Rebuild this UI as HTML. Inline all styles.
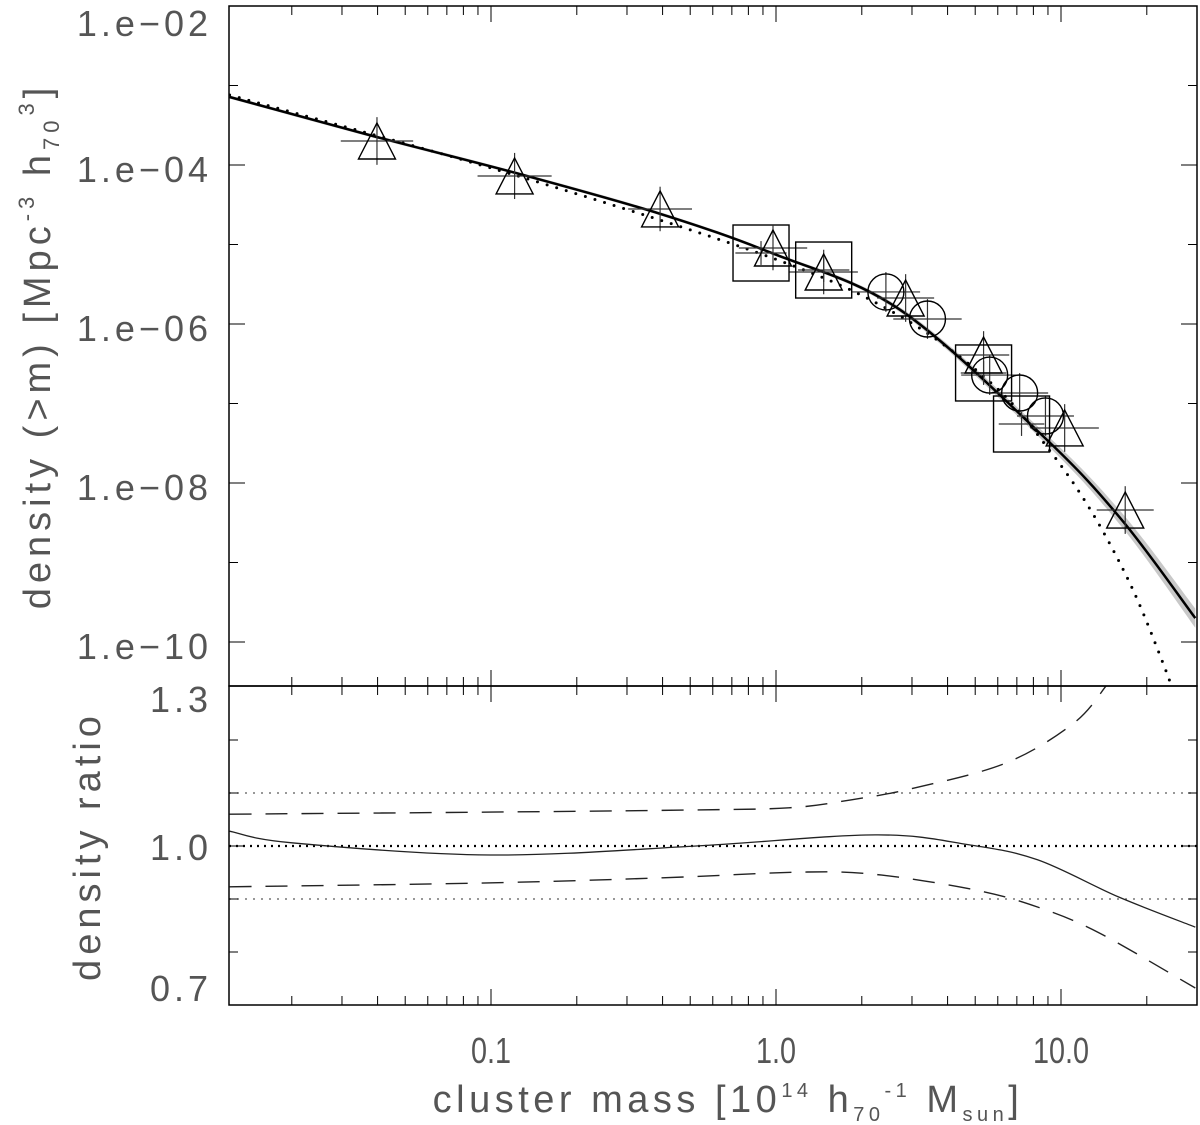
<!DOCTYPE html>
<html><head><meta charset="utf-8"><style>
html,body{margin:0;padding:0;background:#fff;}
svg{display:block;}
text{font-family:"Liberation Sans",sans-serif;fill:#555;}
</style></head><body>
<svg id="chart" width="1200" height="1125" viewBox="0 0 1200 1125" xmlns="http://www.w3.org/2000/svg">
<g id="top-panel"></g>
<g id="bot-panel"></g>
<g id="labels">
<text x="0" y="0" transform="translate(50,346) rotate(-90)" text-anchor="middle" font-size="38" letter-spacing="5">density (&gt;m) [Mpc<tspan dy="-16" font-size="22">-3</tspan><tspan dy="16"> h</tspan><tspan dy="9" font-size="22">70</tspan><tspan dy="-25" font-size="22">3</tspan><tspan dy="16">]</tspan></text>
<text x="0" y="0" transform="translate(100,846) rotate(-90)" text-anchor="middle" font-size="38" letter-spacing="5">density ratio</text>
<text x="0" y="0" transform="translate(728,1112)" text-anchor="middle" font-size="38" letter-spacing="4.5">cluster mass  [10<tspan dy="-15" font-size="20">14</tspan><tspan dy="15"> h</tspan><tspan dy="9" font-size="20">70</tspan><tspan dy="-24" font-size="20">-1</tspan><tspan dy="15"> M</tspan><tspan dy="9" font-size="20">sun</tspan><tspan dy="-9">]</tspan></text>
</g>
</svg>
<script>
// ---- data ----
const triMass = [0.0398, 0.121, 0.392, 0.976, 1.47, 2.85, 5.35, 10.3, 16.8];
const triLogD = [-3.698, -4.138, -4.553, -5.044, -5.346, -5.673, -6.390, -7.308, -8.340];
const triXerr = [0.127, 0.13, 0.112, 0.12, 0.12, 0.1, 0.09, 0.12, 0.1];
const triYerr = [0.3, 0.29, 0.28, 0.28, 0.28, 0.3, 0.3, 0.3, 0.3];
const sqMass = [0.886, 1.47, 5.35, 7.27];
const sqLogD = [-5.107, -5.321, -6.616, -7.258];
const sqXerr = [0.09, 0.09, 0.08, 0.08];
const sqYerr = [0.15, 0.15, 0.15, 0.15];
const cirMass = [2.43, 3.40, 5.62, 7.16, 8.82];
const cirLogD = [-5.597, -5.937, -6.642, -6.868, -7.157];
const cirXerr = [0.12, 0.12, 0.1, 0.1, 0.1];
const cirYerr = [0.25, 0.25, 0.25, 0.25, 0.25];
const fitMass = [0.0121, 0.0385, 0.122, 0.393, 0.97, 2.72, 8.7, 16.4, 29.6];
const fitLogD = [-3.145, -3.635, -4.10, -4.615, -5.11, -5.82, -7.42, -8.47, -9.70];
const fitBand = [0.02, 0.02, 0.02, 0.02, 0.02, 0.03, 0.06, 0.09, 0.12];
const modMass = [0.0121, 0.122, 0.97, 2.72, 5.8, 9.1, 12.9, 17.7, 22.6, 25.5];
const modLogD = [-3.12, -4.13, -5.17, -5.90, -6.77, -7.585, -8.38, -9.31, -10.23, -10.75];
const ratioMass = [0.0121, 0.0200, 0.0995, 0.525, 2.24, 4.78, 8.27, 15.9, 29.6];
const ratioVal = [1.028, 1.006, 0.983, 1.0, 1.021, 1.002, 0.974, 0.904, 0.847];
const upMass = [0.0121, 0.1, 0.5, 1.11, 1.83, 3.04, 6.44, 11.1, 14.4];
const upVal = [1.060, 1.064, 1.068, 1.072, 1.087, 1.109, 1.157, 1.232, 1.302];
const loMass = [0.0121, 0.0904, 0.4, 1.29, 2.35, 5.01, 8.27, 13.6, 29.6];
const loVal = [0.923, 0.930, 0.940, 0.951, 0.945, 0.917, 0.885, 0.836, 0.732];
const refLines = [1.1, 1.0, 0.9];
const xTickVals = [0.1, 1, 10];
const xTickLabels = ['0.1', '1.0', '10.0'];
const yTickExp = [-2, -4, -6, -8, -10];
const yTickLabels = ['1.e\u221202', '1.e\u221204', '1.e\u221206', '1.e\u221208', '1.e\u221210'];
const rTickVals = [1.3, 1.0, 0.7];
const rTickLabels = ['1.3', '1.0', '0.7'];

// ---- axes ----
const L = 229, R = 1197, T = 6, M = 686, B = 1005;
const xS = m => 776 + 285 * Math.log10(m);
const yS = ld => T + (-2 - ld) * 79.5;
const rS = v => 846 - (v - 1) * 530;
const NS = 'http://www.w3.org/2000/svg';
function mk(tag, parent, attrs) {
  const e = document.createElementNS(NS, tag);
  for (const k in attrs) e.setAttribute(k, attrs[k]);
  parent.appendChild(e); return e;
}
function smooth(pts) {
  let d = 'M' + pts[0][0].toFixed(1) + ',' + pts[0][1].toFixed(1);
  for (let i = 0; i < pts.length - 1; i++) {
    const p0 = pts[Math.max(0, i - 1)], p1 = pts[i], p2 = pts[i + 1], p3 = pts[Math.min(pts.length - 1, i + 2)];
    const c1 = [p1[0] + (p2[0] - p0[0]) / 6, p1[1] + (p2[1] - p0[1]) / 6];
    const c2 = [p2[0] - (p3[0] - p1[0]) / 6, p2[1] - (p3[1] - p1[1]) / 6];
    d += 'C' + c1.map(v => v.toFixed(1)) + ' ' + c2.map(v => v.toFixed(1)) + ' ' + p2[0].toFixed(1) + ',' + p2[1].toFixed(1);
  }
  return d;
}
const topPanel = document.getElementById('top-panel');
const botPanel = document.getElementById('bot-panel');
const defs = mk('defs', topPanel, {});
const cp1 = mk('clipPath', defs, {id: 'clipTop'});
mk('rect', cp1, {x: L, y: T, width: R - L, height: M - T});
const cp2 = mk('clipPath', defs, {id: 'clipBot'});
mk('rect', cp2, {x: L, y: M, width: R - L, height: B - M});

const gTop = mk('g', topPanel, {'clip-path': 'url(#clipTop)'});
const upP = fitMass.map((m, i) => [xS(m), yS(fitLogD[i] + fitBand[i])]);
const dnP = fitMass.map((m, i) => [xS(m), yS(fitLogD[i] - fitBand[i])]).reverse();
const band = mk('path', gTop, {d: smooth(upP) + smooth(dnP).replace('M', 'L') + 'Z', fill: '#c8c8c8', stroke: 'none'});


const modl = mk('path', gTop, {d: smooth(modMass.map((m, i) => [xS(m), yS(modLogD[i])])), fill: 'none', stroke: '#000', 'stroke-width': 3, 'stroke-dasharray': '0 10', 'stroke-linecap': 'round'});


const fitl = mk('path', gTop, {d: smooth(fitMass.map((m, i) => [xS(m), yS(fitLogD[i])])), fill: 'none', stroke: '#000', 'stroke-width': 2.5});



function errbars(g, mass, ld, xe, ye) {
  for (let i = 0; i < mass.length; i++) {
    const cx = xS(mass[i]), cy = yS(ld[i]);
    const h = mk('line', g, {x1: 285 * -xe[i] + cx, x2: 285 * xe[i] + cx, y1: cy, y2: cy, stroke: '#333', 'stroke-width': 1.2});
    
    
    const v = mk('line', g, {x1: cx, x2: cx, y1: yS(ld[i] + ye[i]), y2: yS(ld[i] - ye[i]), stroke: '#333', 'stroke-width': 1.2});
    
    
  }
}
const gPts = mk('g', gTop, {fill: 'none', stroke: '#000', 'stroke-width': 1.4});
errbars(gPts, sqMass, sqLogD, sqXerr, sqYerr);
errbars(gPts, cirMass, cirLogD, cirXerr, cirYerr);
errbars(gPts, triMass, triLogD, triXerr, triYerr);
sqMass.forEach((m, i) => {
  const r = mk('rect', gPts, {x: xS(m) - 28, y: yS(sqLogD[i]) - 28, width: 56, height: 56});
  
  
});
cirMass.forEach((m, i) => {
  const c = mk('circle', gPts, {cx: xS(m), cy: yS(cirLogD[i]), r: 18});
  
  
});
triMass.forEach((m, i) => {
  const x = xS(m), y = yS(triLogD[i]);
  const t = mk('polygon', gPts, {points: `${x},${y - 18} ${x - 18.5},${y + 18} ${x + 18.5},${y + 18}`});
  
  
});

const gBot = mk('g', botPanel, {'clip-path': 'url(#clipBot)'});
refLines.forEach(v => {
  const ln = mk('line', gBot, {x1: L, x2: R, y1: rS(v), y2: rS(v), stroke: v === 1 ? '#000' : '#777', 'stroke-width': v === 1 ? 2.2 : 1.4, 'stroke-dasharray': v === 1 ? '2 5' : '2 6'});
  
  
});
const rl = mk('path', gBot, {d: smooth(ratioMass.map((m, i) => [xS(m), rS(ratioVal[i])])), fill: 'none', stroke: '#222', 'stroke-width': 1.3});


const ul = mk('path', gBot, {d: smooth(upMass.map((m, i) => [xS(m), rS(upVal[i])])), fill: 'none', stroke: '#222', 'stroke-width': 1.4, 'stroke-dasharray': '22 14'});


const ll = mk('path', gBot, {d: smooth(loMass.map((m, i) => [xS(m), rS(loVal[i])])), fill: 'none', stroke: '#222', 'stroke-width': 1.4, 'stroke-dasharray': '22 14'});



const fr1 = mk('rect', topPanel, {x: L, y: T, width: R - L, height: M - T, fill: 'none', stroke: '#000', 'stroke-width': 1.5});


const fr2 = mk('rect', botPanel, {x: L, y: M, width: R - L, height: B - M, fill: 'none', stroke: '#000', 'stroke-width': 1.5});


const gT = mk('g', botPanel, {stroke: '#000', 'stroke-width': 1});
for (let e = -2; e <= 1; e++) for (let k = 1; k <= 9; k++) {
  const m = k * Math.pow(10, e), x = xS(m);
  if (x < L + 1 || x > R - 1) continue;
  const len = k === 1 ? 16 : 9;
  [[T, 1], [M, -1], [M, 1], [B, -1]].forEach(([y0, s]) => mk('line', gT, {x1: x, x2: x, y1: y0, y2: y0 + s * len}));
}
for (let e = -3; e >= -10; e--) {
  const y = yS(e), len = e % 2 === 0 ? 16 : 9;
  mk('line', gT, {x1: L, x2: L + len, y1: y, y2: y});
  mk('line', gT, {x1: R, x2: R - len, y1: y, y2: y});
}
[1.2, 1.1, 1.0, 0.9, 0.8].forEach(v => {
  const y = rS(v), len = v === 1.0 ? 16 : 9;
  mk('line', gT, {x1: L, x2: L + len, y1: y, y2: y});
  mk('line', gT, {x1: R, x2: R - len, y1: y, y2: y});
});

const lab = document.getElementById('labels');
xTickVals.forEach((v, i) => {
  const t = mk('text', lab, {x: 0, y: 0, transform: `translate(${xS(v)},1063) scale(0.8,1)`, 'text-anchor': 'middle', 'font-size': 36});
  t.textContent = xTickLabels[i];
  
  
});
yTickExp.forEach((e, i) => {
  const y = e === -2 ? 36 : yS(e) + 17;
  const t = mk('text', lab, {x: 212, y: y, 'text-anchor': 'end', 'font-size': 36, 'letter-spacing': 4});
  t.textContent = yTickLabels[i];
  
  
});
rTickVals.forEach((v, i) => {
  const y = v === 1.3 ? 712 : (v === 0.7 ? 1001 : rS(v) + 14);
  const t = mk('text', lab, {x: 212, y: y, 'text-anchor': 'end', 'font-size': 36, 'letter-spacing': 4});
  t.textContent = rTickLabels[i];
  
  
});
</script>
</body></html>
